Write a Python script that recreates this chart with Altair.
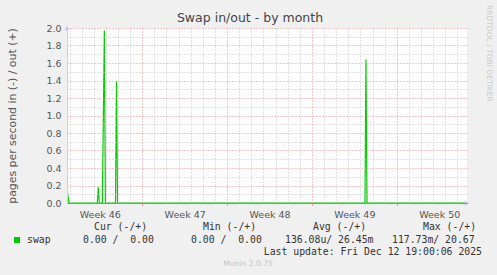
import altair as alt
import pandas as pd

# ---- data ----
times = [
    "2025-11-09T19:00:00Z", "2025-11-09T23:00:00Z",
    "2025-11-12T07:00:00Z", "2025-11-12T09:00:00Z", "2025-11-12T11:00:00Z",
    "2025-11-12T17:00:00Z", "2025-11-12T21:00:00Z", "2025-11-12T23:00:00Z",
    "2025-11-13T19:00:00Z", "2025-11-13T21:00:00Z", "2025-11-13T23:00:00Z",
    "2025-12-04T09:00:00Z", "2025-12-04T11:00:00Z", "2025-12-04T13:00:00Z",
    "2025-12-12T19:00:00Z",
]
swap_out = [0.16, 0.0,
            0.0, 0.18, 0.0,
            0.0, 1.97, 0.0,
            0.0, 1.39, 0.0,
            0.0, 1.64, 0.0,
            0.0]

x_start = "2025-11-09T19:00:00Z"
x_end = "2025-12-12T19:00:00Z"
y_ticks = [0.0, 0.1, 0.2, 0.3, 0.4, 0.5, 0.6, 0.7, 0.8, 0.9, 1.0,
           1.1, 1.2, 1.3, 1.4, 1.5, 1.6, 1.7, 1.8, 1.9, 2.0]
y_max = 2.0

title_text = "Swap in/out - by month"
y_title = "pages per second in (-) / out (+)"
watermark = "RRDTOOL / TOBI OETIKER"
footer = "Munin 2.0.75"
legend_header = ["Cur (-/+)", "Min (-/+)", "Avg (-/+)", "Max (-/+)"]
legend_series = "swap"
legend_values = ["0.00 /  0.00", "0.00 /  0.00", "136.08u/ 26.45m", "117.73m/ 20.67"]
last_update = "Last update: Fri Dec 12 19:00:06 2025"

GREEN = "#00cc00"
RED_GRID = "#e89090"
GRAY_GRID = "#c4c4c4"

df = pd.DataFrame({"time": times, "value": swap_out})

# grid tick positions: every 12 hours from Sunday Nov 9 00:00
grid_times = pd.date_range("2025-11-09T12:00:00", "2025-12-12T12:00:00", freq="12h", tz="UTC")
grid_ms = [int(t.value // 10**6) for t in grid_times]

xscale = alt.Scale(type="utc", domain=[x_start, x_end])
yscale = alt.Scale(domain=[0, y_max], nice=False)

x_axis = alt.Axis(
    values=grid_ms,
    title=None,
    grid=True,
    gridDash=[1, 2],
    gridColor={"condition": {"test": "utcday(datum.value) == 0", "value": RED_GRID}, "value": GRAY_GRID},
    gridOpacity={"condition": {"test": "utchours(datum.value) == 12", "value": 0}, "value": 1},
    labelExpr="utcday(datum.value) == 3 && utchours(datum.value) == 12 ? 'Week ' + utcFormat(datum.value, '%V') : ''",
    labelOverlap=False,
    labelFont="DejaVu Sans",
    labelFontSize=9.5,
    labelColor="#555555",
    labelPadding=4,
    ticks=True,
    tickSize=2,
    tickColor={"condition": {"test": "utcday(datum.value) == 0 && utchours(datum.value) == 0", "value": "#f08080"}, "value": "transparent"},
    domainColor="#8a8a9a",
    domainWidth=1,
    zindex=1,
)

y_axis = alt.Axis(
    values=y_ticks,
    title=y_title,
    titleFont="DejaVu Sans",
    titleFontSize=10.9,
    titleFontWeight="normal",
    titleColor="#555555",
    titlePadding=28,
    grid=True,
    gridDash=[1, 2],
    gridColor={"condition": {"test": "round(datum.value * 10) % 2 == 0", "value": RED_GRID}, "value": GRAY_GRID},
    labelExpr="round(datum.value * 10) % 2 == 0 ? format(datum.value, '.1f') : ''",
    labelFont="DejaVu Sans",
    labelFontSize=9.5,
    labelColor="#555555",
    labelPadding=6,
    ticks=False,
    domainColor="#c8ccff",
    zindex=1,
)

line = alt.Chart(df).mark_line(color=GREEN, strokeWidth=1.2, interpolate="linear", clip=True).encode(
    x=alt.X("time:T", scale=xscale, axis=x_axis),
    y=alt.Y("value:Q", scale=yscale, axis=y_axis),
)

# axis arrows
arrow_df = pd.DataFrame({"time": [x_start, x_end], "value": [y_max, 0.0],
                         "shape": ["triangle-up", "triangle-right"]})
arrows = alt.Chart(arrow_df).mark_point(filled=True, size=30, color="#c8ccff", opacity=1).encode(
    x=alt.X("time:T", scale=xscale, axis=x_axis),
    y=alt.Y("value:Q", scale=yscale, axis=y_axis),
    shape=alt.Shape("shape:N", scale=None, legend=None),
)

mono = "DejaVu Sans Mono"
txt_color = "#333333"


def label(text, x, y, font=mono, size=9.8, color=txt_color, align="left", angle=0, baseline="middle"):
    text = text.replace("  ", " \u00a0")
    return alt.Chart(pd.DataFrame({"t": [text]})).mark_text(
        font=font, fontSize=size, color=color, align=align, baseline=baseline, angle=angle
    ).encode(text="t:N", x=alt.value(x), y=alt.value(y))


ox, oy = 67, 28
texts = [
    label(title_text, 250 - ox, 18 - oy, font="DejaVu Sans", size=12.5, color="#444444", align="center"),
    label(watermark, 488.5 - ox, 5 - oy, font="DejaVu Sans", size=7.5, color="#cccccc", angle=90),
    label(footer, 248 - ox, 264 - oy, font="DejaVu Sans", size=7.6, color="#c4c4c4", align="center"),
    label(legend_series, 27 - ox, 240 - oy),
    label(last_update, 482 - ox, 251.7 - oy, align="right"),
]
for h, xx in zip(legend_header, [94, 203, 313, 423]):
    texts.append(label(h, xx - ox, 227.3 - oy))
for v, xx in zip(legend_values, [83, 191, 285, 392]):
    texts.append(label(v, xx - ox, 240 - oy))

square = alt.Chart(pd.DataFrame({"t": [legend_series]})).mark_square(
    color=GREEN, size=36, filled=True, opacity=1
).encode(x=alt.value(17 - ox), y=alt.value(240 - oy))

chart = alt.layer(line, arrows, square, *texts).properties(
    width=400, height=175,
    autosize=alt.AutoSizeParams(type="none"),
    padding={"left": ox, "top": oy, "right": 30, "bottom": 72},
    background="#f0f0f0",
).configure_view(fill="white", strokeWidth=0)

chart.save("out.html", embed_options={"renderer": "svg", "actions": False})
